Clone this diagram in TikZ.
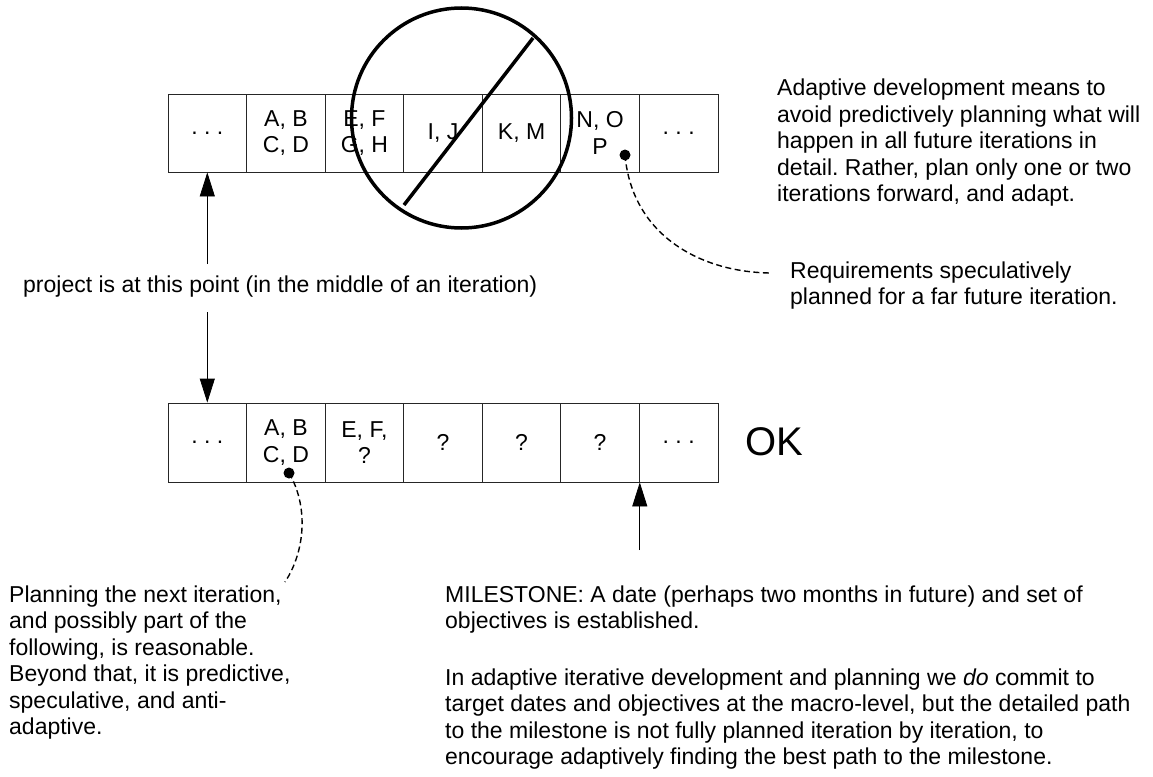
\documentclass[tikz,border=0pt]{standalone}
\usepackage{fontspec}
\setmainfont{Liberation Sans}
\usetikzlibrary{arrows.meta,calc}
\newcommand\diagfont{\fontsize{23}{26.5}\selectfont}
\newcommand\bigfont{\fontsize{40}{44}\selectfont}
\frenchspacing
\begin{document}
\begin{tikzpicture}[x=1pt,y=-1pt,
  cell/.style={draw=black!85, line width=0.8pt, minimum width=78.57pt, minimum height=78pt,
    inner sep=0pt, align=center, font=\diagfont},
  para/.style={anchor=north west, inner sep=0pt, align=left, font=\diagfont},
  arr/.style={draw=black, line width=0.8pt, -{Triangle[length=24pt,width=15pt]}},
  dot/.style={circle, fill=black, inner sep=0pt, minimum size=11pt},
  dashedline/.style={draw=black, line width=1.4pt, dash pattern=on 6pt off 3.5pt},
  bold/.style={draw=black, line width=3.5pt}]
\useasboundingbox (0,0) rectangle (1153,776);

% top row
\node[cell] (t1) at (207.3,133) {. . .};
\node[cell] (t2) at (285.9,133) {A, B\\C, D};
\node[cell] (t3) at (364.4,133) {E, F\\G, H};
\node[cell] (t4) at (443.0,133) {I, J};
\node[cell] (t5) at (521.6,133) {K, M};
\node[cell] (t6) at (600.1,133) {N, O\\P};
\node[cell] (t7) at (678.7,133) {. . .};

% bottom row
\node[cell, minimum height=79pt] (b1) at (207.3,442.5) {. . .};
\node[cell, minimum height=79pt] (b2) at (285.9,442.5) {A, B\\C, D};
\node[cell, minimum height=79pt] (b3) at (364.4,442.5) {E, F,\\?};
\node[cell, minimum height=79pt] (b4) at (443.0,442.5) {?};
\node[cell, minimum height=79pt] (b5) at (521.6,442.5) {?};
\node[cell, minimum height=79pt] (b6) at (600.1,442.5) {?};
\node[cell, minimum height=79pt] (b7) at (678.7,442.5) {. . .};

% prohibition sign
\node[circle, bold, minimum size=220pt, inner sep=0pt] (noentry) at (461.5,118) {};
\draw[bold] (404,205) -- (533,38);

% texts
\node[para] (adapt) at (777,78.75) {Adaptive development means to\\avoid predictively planning what will\\happen in all future iterations in\\detail. Rather, plan only one or two\\iterations forward, and adapt.};
\node[para] (req) at (790,261.5) {Requirements speculatively\\planned for a far future iteration.};
\node[anchor=base west, inner sep=0pt, font=\diagfont] (project) at (23,292) {project is at this point (in the middle of an iteration)};
\node[para] (plan) at (9,585.5) {Planning the next iteration,\\and possibly part of the\\following, is reasonable.\\Beyond that, it is predictive,\\speculative, and anti-\\adaptive.};
\node[para] (ms1) at (445,585.5) {MILESTONE: A date (perhaps two months in future) and set of\\objectives is established.};
\node[para] (ms2) at (445,668.5) {In adaptive iterative development and planning we \textit{do} commit to\\target dates and objectives at the macro-level, but the detailed path\\to the milestone is not fully planned iteration by iteration, to\\encourage adaptively finding the best path to the milestone.};
\node[anchor=west, inner sep=0pt, font=\bigfont] (ok) at (745,442) {OK};

% arrows
\coordinate (upstart) at (t1.south |- 0,264);
\coordinate (downstart) at (b1.north |- 0,312);
\coordinate (msstart) at (b6.south east |- 0,550);
\draw[arr] (upstart) -- (t1.south);
\draw[arr] (downstart) -- (b1.north);
\draw[arr] (msstart) -- (b6.south east);

% dots and dashed callouts
\node[dot] (d1) at (625,155) {};
\node[dot] (d2) at (289,473) {};
\coordinate (reqend) at (770,273);
\coordinate (planend) at (285,582);
\draw[dashedline] (d1.center) .. controls (632,235) and (700,272) .. (reqend);
\draw[dashedline] (d2.center) .. controls (308,505) and (306,550) .. (planend);
\end{tikzpicture}
\end{document}
